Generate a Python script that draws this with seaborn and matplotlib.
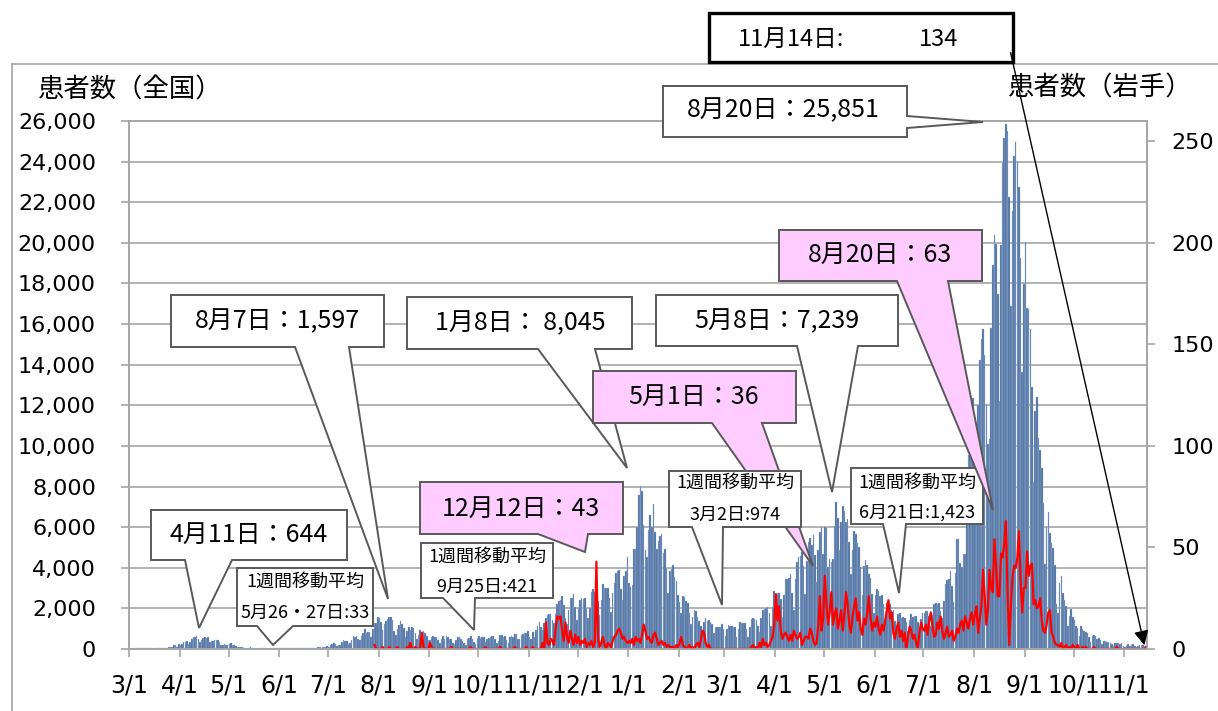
import matplotlib
matplotlib.use('Agg')
import pandas as pd
import seaborn as sns
import matplotlib.pyplot as plt
from matplotlib.patches import Polygon, Rectangle, FancyArrowPatch
from matplotlib.lines import Line2D

# daily new cases, whole of Japan (2020-03-01 .. 2021-11-14)
mar20 = [9, 14, 18, 33, 36, 59, 47, 33, 26, 52, 54, 56, 41, 59, 33, 15, 44, 39, 34, 61, 53, 43, 38, 65, 93, 96, 112, 194, 173, 87, 225]
apr20 = [206, 235, 351, 367, 383, 252, 351, 515, 576, 579, 644, 507, 343, 454, 549, 584, 556, 568, 368, 370, 387, 433, 438, 439, 354, 198, 189, 270, 211, 189]
may20 = [264, 298, 203, 174, 124, 94, 96, 101, 107, 55, 41, 71, 57, 99, 66, 37, 31, 19, 56, 31, 28, 33, 38, 16, 20, 23, 37, 49, 42, 42, 26]
jun20 = [34, 40, 51, 40, 39, 49, 38, 36, 38, 35, 43, 47, 36, 47, 72, 44, 45, 57, 69, 41, 59, 51, 63, 83, 75, 104, 98, 118, 107, 130]
jul20 = [123, 195, 245, 273, 250, 157, 212, 205, 357, 428, 390, 406, 259, 317, 441, 622, 594, 664, 509, 420, 631, 795, 981, 778, 842, 838, 598, 985, 1264, 1301, 1580]
aug20 = [1536, 1330, 958, 1242, 1357, 1485, 1597, 1565, 1442, 869, 699, 991, 1175, 1360, 1229, 1024, 611, 909, 1103, 958, 1100, 1021, 766, 497, 710, 918, 846, 870, 777, 630, 431]
sep20 = [460, 594, 643, 603, 599, 456, 291, 506, 654, 509, 629, 603, 478, 480, 300, 266, 437, 580, 581, 471, 378, 317, 204, 476, 526, 618, 476, 335, 268, 518]
oct20 = [631, 531, 587, 571, 323, 494, 548, 608, 635, 651, 513, 271, 416, 699, 701, 574, 621, 438, 311, 612, 632, 615, 726, 758, 505, 485, 696, 734, 801, 764, 880]
nov20 = [615, 471, 860, 576, 940, 1138, 1312, 1082, 940, 1281, 1549, 1660, 1704, 1726, 1438, 1277, 1699, 2201, 2384, 2425, 2596, 2168, 1520, 1228, 1944, 2500, 2504, 2684, 2065, 1436]
dec20 = [2031, 2430, 2516, 2439, 2508, 2027, 1503, 2029, 2811, 2970, 2786, 3041, 2379, 1680, 2400, 3211, 3004, 2983, 2992, 2495, 1809, 2746, 3271, 3744, 3832, 3881, 2941, 2395, 3603, 3852, 4520]
jan21 = [3243, 3059, 3157, 4903, 4914, 6000, 7570, 8045, 7790, 6097, 4884, 4550, 5871, 6606, 6000, 7130, 5759, 4925, 5320, 5554, 5651, 4717, 4926, 3990, 2763, 3852, 3964, 4129, 3538, 3343, 2673]
feb21 = [2330, 1791, 2634, 2577, 2366, 2284, 1784, 1216, 1561, 1898, 1873, 1564, 1359, 1154, 872, 1308, 1531, 1380, 1427, 1329, 1223, 791, 1080, 1075, 1073, 1067, 1210, 991]
mar21 = [663, 971, 1161, 1151, 1123, 1070, 1065, 586, 996, 1312, 1298, 1304, 1283, 990, 578, 1095, 1488, 1526, 1476, 1411, 1119, 816, 1519, 1912, 1968, 2021, 2079, 1784, 1145, 2074, 2843]
apr21 = [2598, 2757, 2760, 2473, 1580, 2652, 3452, 3442, 3490, 3697, 2779, 1916, 3456, 4304, 4534, 4571, 4798, 4088, 2720, 4321, 5290, 5472, 5119, 5605, 4614, 3316, 4888, 5785, 5996, 4675]
may21 = [5998, 5965, 4059, 4426, 4305, 4418, 6054, 7239, 6473, 4860, 6235, 7050, 6812, 6273, 6421, 5250, 3678, 4883, 5811, 5677, 5225, 4999, 4050, 2664, 4093, 4384, 4129, 3680, 3488, 2726, 1782]
jun21 = [2666, 2961, 2835, 2630, 2679, 2196, 1350, 2281, 2427, 2209, 1941, 1938, 1387, 938, 1704, 1794, 1548, 1590, 1513, 1309, 872, 1438, 1719, 1586, 1620, 1617, 1313, 975, 1496, 1776]
jul21 = [1754, 1883, 1891, 1626, 1120, 1658, 2193, 2252, 2234, 2285, 1875, 1514, 2387, 3186, 3417, 3443, 3865, 3100, 2323, 3755, 5393, 5404, 4227, 4055, 4692, 4677, 7629, 9576, 10693, 10744, 12341]
aug21 = [10166, 8392, 12016, 14207, 15263, 15753, 14472, 12076, 10090, 10363, 15812, 18889, 20366, 19957, 17467, 12190, 19896, 23917, 25156, 25851, 25492, 22259, 16914, 21555, 24281, 24949, 24045, 22738, 19278, 13635, 17991]
sep21 = [20032, 16778, 16748, 15753, 12918, 8230, 11730, 12391, 10380, 9784, 8899, 7204, 4167, 6008, 6745, 5690, 5212, 4987, 4147, 2224, 1767, 3234, 3580, 2753, 2427, 2117, 1147, 1610, 1951, 1584]
oct21 = [1443, 1128, 1056, 619, 1108, 997, 862, 837, 777, 610, 358, 634, 681, 622, 508, 559, 429, 232, 372, 405, 344, 325, 286, 264, 154, 279, 292, 278, 263, 286, 168]
nov21 = [86, 158, 231, 161, 212, 230, 162, 105, 164, 203, 204, 195, 167, 134]

# daily new cases, Iwate (2020-07-29 .. 2021-11-14)
iw_jul20 = [2, 0, 0]
iw_aug20 = [0, 0, 1, 0, 0, 0, 1, 0, 0, 0, 0, 1, 0, 0, 0, 0, 0, 1, 0, 3, 0, 0, 1, 0, 0, 1, 8, 1, 0, 0, 0]
iw_sep20 = [3, 1, 0, 0, 0, 0, 0, 0, 0, 0, 0, 0, 0, 1, 0, 0, 0, 0, 0, 0, 0, 0, 0, 0, 0, 1, 0, 0, 0, 0]
iw_oct20 = [0, 0, 0, 0, 1, 0, 0, 0, 0, 0, 0, 0, 0, 1, 0, 0, 0, 0, 0, 0, 0, 0, 1, 0, 0, 0, 0, 0, 0, 1, 0]
iw_nov20 = [0, 0, 1, 0, 0, 0, 0, 0, 3, 0, 13, 3, 2, 5, 4, 2, 10, 16, 15, 16, 9, 4, 13, 6, 3, 9, 5, 2, 7, 3]
iw_dec20 = [6, 2, 4, 3, 5, 1, 3, 2, 4, 1, 3, 43, 5, 1, 3, 6, 2, 0, 3, 2, 1, 4, 6, 7, 9, 10, 8, 5, 6, 4, 3]
iw_jan21 = [4, 3, 5, 2, 6, 4, 5, 3, 7, 12, 9, 5, 6, 4, 3, 7, 8, 5, 2, 3, 4, 2, 3, 1, 2, 1, 1, 1, 0, 2, 1]
iw_feb21 = [3, 6, 2, 1, 0, 1, 2, 0, 1, 0, 2, 3, 1, 4, 9, 8, 3, 1, 2, 0, 0, 0, 0, 0, 0, 0, 0, 0]
iw_mar21 = [0, 0, 0, 0, 0, 0, 0, 0, 0, 0, 0, 0, 0, 0, 0, 0, 1, 2, 0, 1, 0, 3, 1, 5, 2, 3, 1, 2, 4, 6, 12]
iw_apr21 = [27, 14, 21, 9, 5, 7, 8, 6, 4, 7, 4, 9, 7, 5, 6, 8, 2, 4, 6, 6, 5, 10, 8, 4, 2, 3, 12, 26, 9, 15]
iw_may21 = [36, 22, 12, 18, 28, 12, 17, 20, 10, 14, 19, 9, 17, 28, 22, 12, 8, 16, 21, 25, 14, 18, 10, 7, 15, 12, 18, 26, 16, 9, 13]
iw_jun21 = [11, 16, 10, 7, 12, 9, 14, 19, 24, 15, 18, 8, 5, 10, 13, 6, 9, 4, 8, 0, 6, 11, 9, 5, 7, 3, 0, 8, 13, 10]
iw_jul21 = [9, 12, 7, 14, 18, 11, 6, 7, 13, 10, 16, 9, 5, 8, 11, 6, 7, 9, 4, 6, 10, 8, 12, 14, 9, 16, 13, 10, 15, 18, 12]
iw_aug21 = [17, 21, 8, 15, 21, 39, 26, 12, 20, 39, 30, 28, 54, 41, 26, 26, 47, 45, 52, 63, 30, 2, 20, 35, 41, 40, 45, 58, 34, 18, 30]
iw_sep21 = [30, 48, 36, 41, 42, 22, 24, 20, 21, 25, 14, 9, 8, 12, 18, 19, 8, 6, 3, 2, 2, 1, 3, 0, 1, 2, 0, 1, 0, 2]
iw_oct21 = [1, 0, 2, 0, 0, 1, 0, 1, 0, 0, 0, 0, 1, 0, 0, 0, 0, 0, 0, 0, 0, 0, 0, 0, 0, 0, 1, 0, 0, 0, 0]
iw_nov21 = [0, 0, 0, 0, 0, 0, 0, 0, 0, 0, 0, 0, 0, 1]

national = (mar20 + apr20 + may20 + jun20 + jul20 + aug20 + sep20 + oct20 + nov20 + dec20
            + jan21 + feb21 + mar21 + apr21 + may21 + jun21 + jul21 + aug21 + sep21 + oct21 + nov21)
iwate = (iw_jul20 + iw_aug20 + iw_sep20 + iw_oct20 + iw_nov20 + iw_dec20 + iw_jan21 + iw_feb21
         + iw_mar21 + iw_apr21 + iw_may21 + iw_jun21 + iw_jul21 + iw_aug21 + iw_sep21 + iw_oct21 + iw_nov21)

dates = pd.date_range('2020-03-01', '2021-11-14')
iw_dates = pd.date_range('2020-07-29', '2021-11-14')
assert len(dates) == len(national), (len(dates), len(national))
assert len(iw_dates) == len(iwate), (len(iw_dates), len(iwate))

nat_df = pd.DataFrame({'day': range(len(dates)), 'cases': national})
iw_df = pd.DataFrame({'day': (iw_dates - dates[0]).days, 'cases': iwate})

W, H = 1218, 711
GRAY = '#a6a6a6'
JP = 'Noto Sans CJK JP'
plt.rcParams['font.family'] = ['DejaVu Sans', JP]


def px(x, y):
    return (x / W, 1 - y / H)


def callout(fig, box, base, tip, face='white', side='bottom'):
    x0, y0, x1, y1 = box
    if side == 'bottom':
        pts = [(x0, y0), (x1, y0), (x1, y1), (base[1], y1), tip, (base[0], y1), (x0, y1)]
    else:
        pts = [(x0, y0), (x1, y0), (x1, base[0]), tip, (x1, base[1]), (x1, y1), (x0, y1)]
    fig.add_artist(Polygon([px(*p) for p in pts], closed=True, transform=fig.transFigure,
                           facecolor=face, edgecolor='#595959', lw=1.4, zorder=5))


def label(fig, x, y, s, size, ha='center'):
    fig.text(*px(x, y), s, ha=ha, va='center', fontsize=size, family=JP, zorder=6)


fig = plt.figure(figsize=(W / 100, H / 100), dpi=100)
ax = fig.add_axes([129 / W, 1 - 649 / H, 1018 / W, 528 / H])

sns.barplot(data=nat_df, x='day', y='cases', color='#4a6b9d', saturation=1, width=0.95,
            errorbar=None, edgecolor='#a9c2e2', linewidth=0.25, ax=ax)
ax.set_ylim(0, 26000)
ax.set_yticks(range(0, 26001, 2000))
ax.set_yticklabels([f'{v:,}' for v in range(0, 26001, 2000)])
ax.yaxis.grid(True, color=GRAY, lw=1.2)
ax.set_axisbelow(True)

ax2 = ax.twinx()
sns.lineplot(data=iw_df, x='day', y='cases', color='#ff0000', linewidth=1.6, ax=ax2)
ax2.set_ylim(0, 260)
ax2.set_yticks(range(0, 251, 50))

month_pos = [i - 0.5 for i, d in enumerate(dates) if d.day == 1]
month_lab = [f'{d.month}/1' for d in dates if d.day == 1]
ax.set_xticks(month_pos)
ax.set_xticklabels(month_lab)
ax.set_xlim(-0.5, len(dates) - 0.5)

for a in (ax, ax2):
    a.set_xlabel('')
    a.set_ylabel('')
    for s in a.spines.values():
        s.set_color(GRAY)
        s.set_linewidth(1.2)
ax.tick_params(axis='y', length=5.8, width=1.2, color=GRAY, pad=18, labelsize=16)
ax.tick_params(axis='x', length=5.8, width=1.2, color=GRAY, pad=12, labelsize=17)
ax2.tick_params(axis='y', length=5.8, width=1.2, color=GRAY, pad=12, labelsize=16)

# outer chart frame
fig.add_artist(Line2D([12 / W, 12 / W], [0, 1 - 64 / H], color=GRAY, lw=1.2))
fig.add_artist(Line2D([12 / W, 1], [1 - 64 / H, 1 - 64 / H], color=GRAY, lw=1.2))

fig.text(*px(38, 90), '患者数（全国）', ha='left', va='center', fontsize=19, family=JP)
fig.text(*px(1008, 88), '患者数（岩手）', ha='left', va='center', fontsize=19, family=JP)

PINK = '#ffccff'
callout(fig, (151, 510, 347, 560), (185, 232), (199, 628))
label(fig, 249, 535, '4月11日：644', 18)
callout(fig, (237, 568, 373, 626), (257, 293), (273, 645))
label(fig, 305, 582, '1週間移動平均', 13)
label(fig, 305, 613, '5月26・27日:33', 13)
callout(fig, (171, 295, 384, 347), (295, 349), (388, 599))
label(fig, 277, 321, '8月7日：1,597', 18)
callout(fig, (421, 543, 553, 598), (443, 475), (474, 630))
label(fig, 487, 557, '1週間移動平均', 13)
label(fig, 487, 587, '9月25日:421', 13)
callout(fig, (407, 297, 632, 349), (538, 595), (627, 468))
label(fig, 520, 323, '1月8日： 8,045', 18)
callout(fig, (420, 482, 623, 534), (538, 588), (585, 552), face=PINK)
label(fig, 521, 509, '12月12日：43', 18)
callout(fig, (656, 295, 898, 346), (797, 858), (832, 492))
label(fig, 777, 321, '5月8日：7,239', 18)
callout(fig, (593, 371, 796, 423), (712, 762), (813, 566), face=PINK)
label(fig, 694, 397, '5月1日：36', 18)
callout(fig, (669, 471, 801, 527), (692, 723), (722, 605))
label(fig, 735, 483, '1週間移動平均', 13)
label(fig, 735, 515, '3月2日:974', 13)
callout(fig, (851, 468, 983, 524), (883, 906), (899, 593))
label(fig, 917, 483, '1週間移動平均', 13)
label(fig, 917, 513, '6月21日:1,423', 13)
callout(fig, (779, 230, 982, 281), (897, 948), (993, 510), face=PINK)
label(fig, 880, 255, '8月20日：63', 18)
callout(fig, (663, 86, 907, 137), (116, 128), (983, 122), side='right')
label(fig, 783, 110, '8月20日：25,851', 18)

fig.add_artist(Rectangle(px(709, 62), 304 / W, 49 / H, transform=fig.transFigure,
                         facecolor='white', edgecolor='black', lw=2.4, zorder=5))
label(fig, 738, 39, '11月14日:', 17, ha='left')
label(fig, 958, 39, '134', 17, ha='right')
fig.add_artist(FancyArrowPatch(px(1010, 50), px(1145, 648), transform=fig.transFigure,
                               arrowstyle='-|>', mutation_scale=22, lw=1, color='black', zorder=7))

fig.savefig('out.png', dpi=100)
